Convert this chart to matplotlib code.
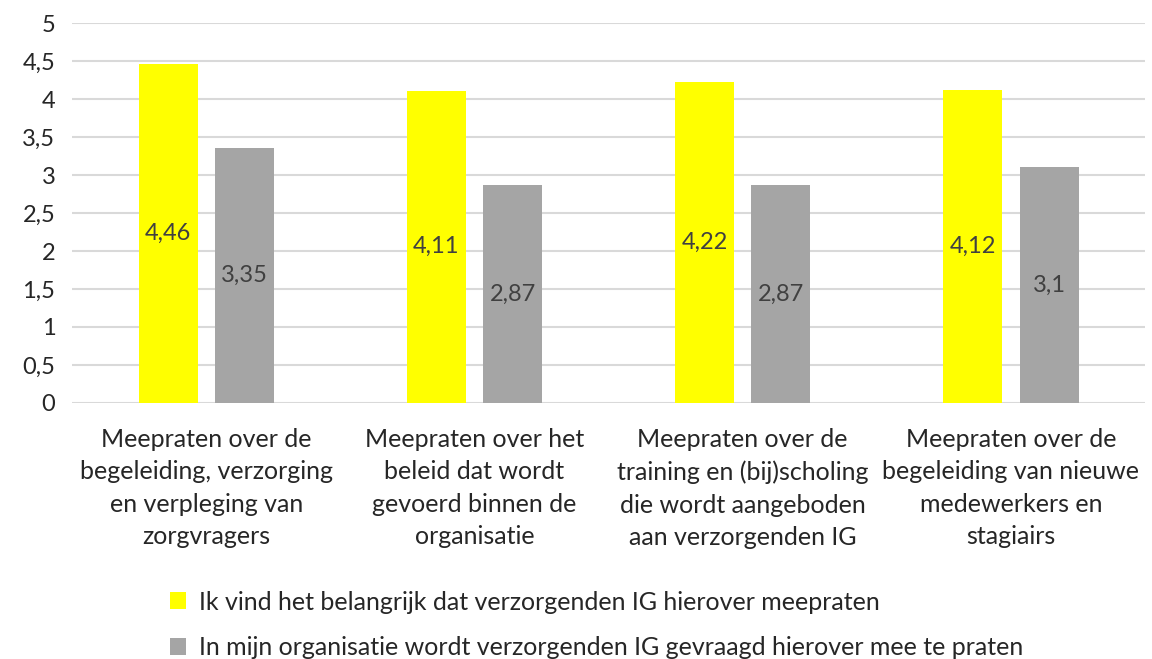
import numpy as np
import matplotlib
matplotlib.use("Agg")
import matplotlib.pyplot as plt

plt.rcParams['font.family'] = ['Lato', 'DejaVu Sans']

categories = ["Meepraten over de\nbegeleiding, verzorging\nen verpleging van\nzorgvragers",
              "Meepraten over het\nbeleid dat wordt\ngevoerd binnen de\norganisatie",
              "Meepraten over de\ntraining en (bij)scholing\ndie wordt aangeboden\naan verzorgenden IG",
              "Meepraten over de\nbegeleiding van nieuwe\nmedewerkers en\nstagiairs"]
belangrijk = [4.46, 4.11, 4.22, 4.12]
gevraagd = [3.35, 2.87, 2.87, 3.1]
series_names = ["Ik vind het belangrijk dat verzorgenden IG hierover meepraten",
                "In mijn organisatie wordt verzorgenden IG gevraagd hierover mee te praten"]
yticks = [0, 0.5, 1, 1.5, 2, 2.5, 3, 3.5, 4, 4.5, 5]

fig = plt.figure(figsize=(11.52, 6.59), dpi=100)
ax = fig.add_axes([0.0625, 0.3885, 0.9315, 0.5765])

x = np.arange(len(categories))
w = 0.22
b1 = ax.bar(x - 0.142, belangrijk, w, color='#FFFF00', zorder=3, label=series_names[0])
b2 = ax.bar(x + 0.142, gevraagd, w, color='#A5A5A5', zorder=3, label=series_names[1])

for bars, vals in [(b1, belangrijk), (b2, gevraagd)]:
    for r, v in zip(bars, vals):
        ax.text(r.get_x() + r.get_width() / 2, v / 2, ('%g' % v).replace('.', ','),
                ha='center', va='center', fontsize=17, color='#404040', zorder=4)

ax.set_xlim(-0.5, len(categories) - 0.5)
ax.set_ylim(0, 5)
ax.set_yticks(yticks)
ax.set_yticklabels([('%g' % t).replace('.', ',') for t in yticks])
ax.set_xticks(x)
ax.set_xticklabels(categories, fontsize=18, color='#262626', linespacing=1.5)
ax.tick_params(axis='y', labelsize=17, labelcolor='#262626', length=0, pad=12)
ax.tick_params(axis='x', length=0, pad=18)
ax.grid(axis='y', color='#D9D9D9', linewidth=1.5, zorder=0)
for s in ax.spines.values():
    s.set_visible(False)

fig.legend(handles=[b1, b2], loc='upper left', bbox_to_anchor=(0.128, 0.138),
           frameon=False, fontsize=18, handlelength=0.65, handleheight=0.65,
           handletextpad=0.5, labelspacing=0.9, labelcolor='#262626',
           bbox_transform=fig.transFigure)

fig.savefig("out.png", dpi=100)
